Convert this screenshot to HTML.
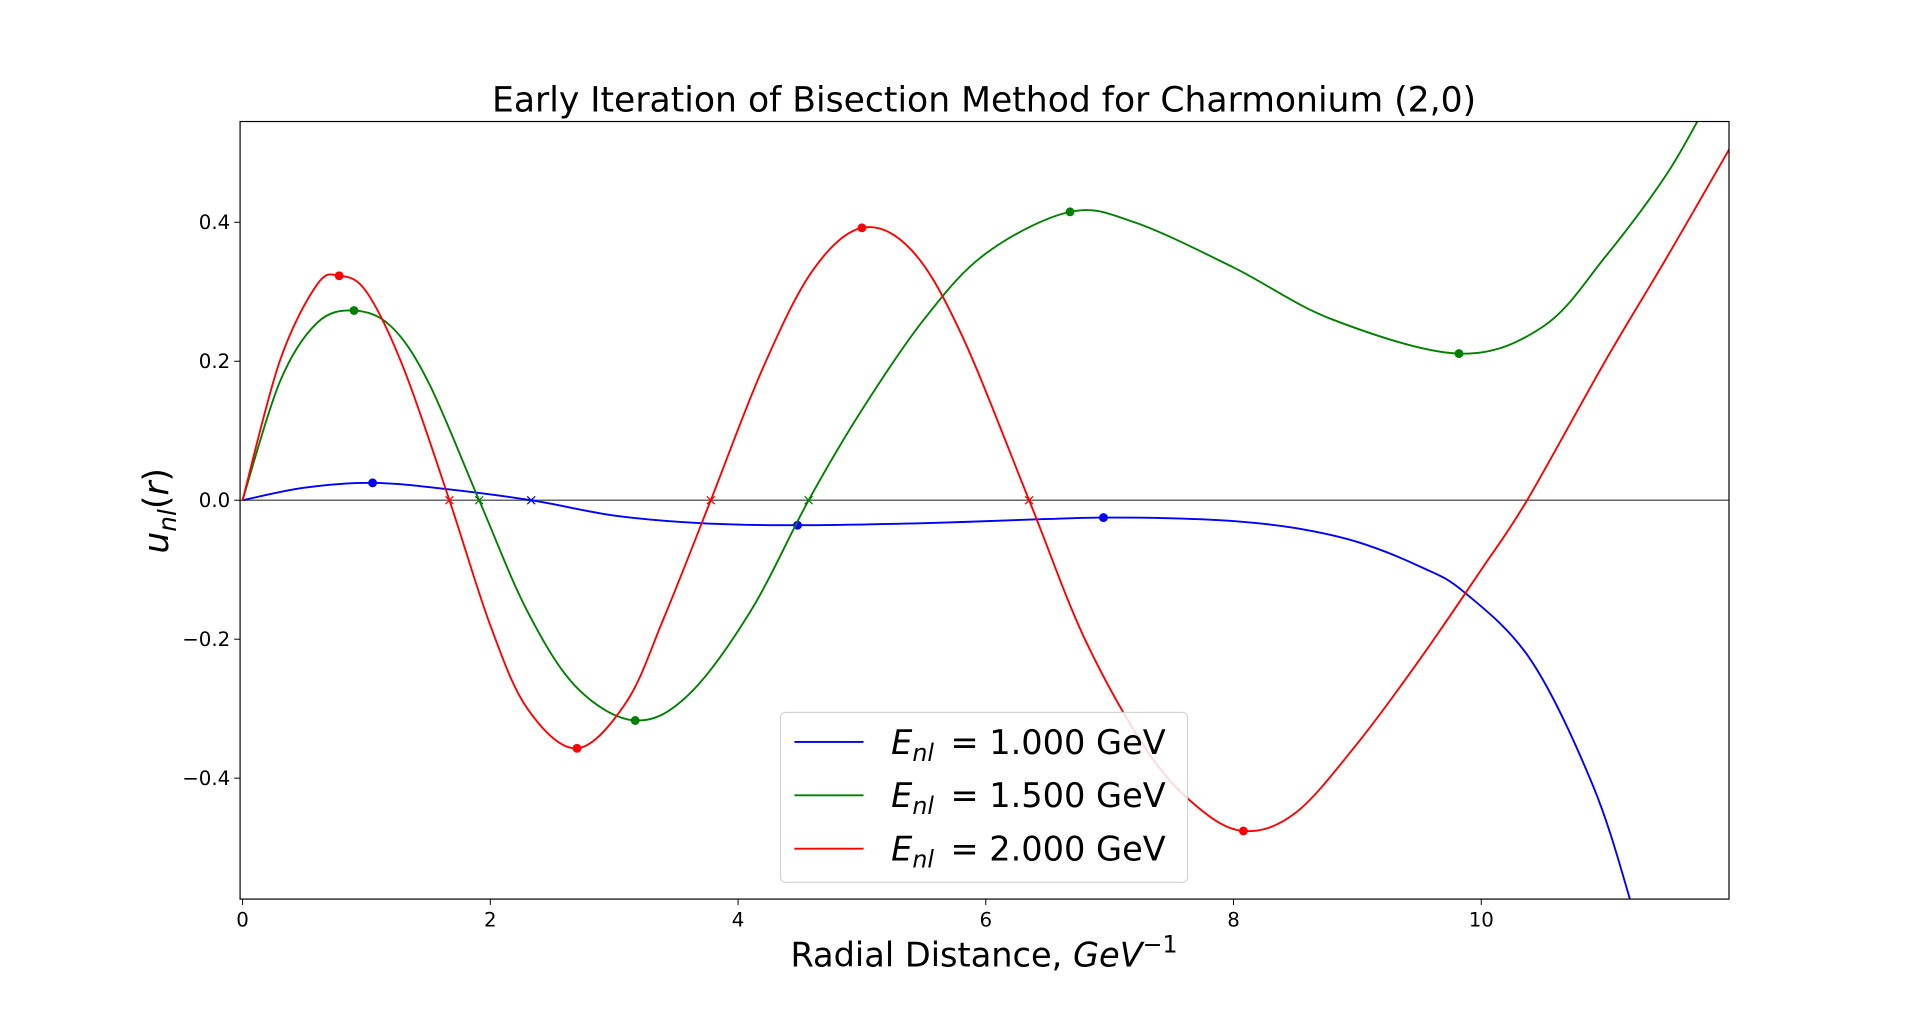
<!DOCTYPE html>
<html><head><meta charset="utf-8"><style>
html,body{margin:0;padding:0;background:#fff;}
svg{display:block;font-family:"DejaVu Sans","Liberation Sans",sans-serif;}
</style></head><body>
<svg id="chart" width="1920" height="1010" viewBox="0 0 1920 1010" xmlns="http://www.w3.org/2000/svg">
<rect width="1920" height="1010" fill="#fff"/>
<g transform="scale(0.988)">
<text x="996" y="113" font-size="35" text-anchor="middle">Early Iteration of Bisection Method for Charmonium (2,0)</text>
<g id="plot"></g>
<text x="996" y="978" font-size="34" text-anchor="middle">Radial Distance, <tspan font-style="italic">GeV</tspan><tspan dy="-14" font-size="24">−1</tspan></text>
<text transform="translate(170,517) rotate(-90)" font-size="35" text-anchor="middle"><tspan font-style="italic">u</tspan><tspan font-style="italic" font-size="25" dy="8">nl</tspan><tspan dy="-8">(</tspan><tspan font-style="italic">r</tspan>)</text>
</g>
</svg>
<script>
const xTicks=[0,2,4,6,8,10];
const yTicks=[-0.4,-0.2,0.0,0.2,0.4];
const blueX=[0,0.5,1.05,1.6,2.33,3,3.7,4.48,5.5,6.5,6.95,7.5,8,8.5,9,9.5,9.86,10.4,10.9,11.2,11.35];
const blueY=[0,0.018,0.025,0.017,0,-0.022,-0.033,-0.036,-0.033,-0.027,-0.025,-0.026,-0.03,-0.04,-0.06,-0.095,-0.132,-0.23,-0.41,-0.574,-0.68];
const greenX=[0,0.3,0.6,0.9,1.2,1.5,1.91,2.3,2.7,3.17,3.6,4.1,4.57,5,5.5,6,6.68,7.2,8,8.8,9.82,10.5,11,11.5,11.85];
const greenY=[0,0.17,0.255,0.273,0.25,0.17,0,-0.16,-0.27,-0.317,-0.28,-0.16,0,0.13,0.26,0.355,0.415,0.4,0.335,0.26,0.211,0.25,0.35,0.47,0.58];
const redX=[0,0.3,0.6,0.78,1.0,1.3,1.67,2.0,2.3,2.7,3.1,3.4,3.78,4.2,4.6,5.0,5.4,5.8,6.35,6.8,7.3,7.7,8.08,8.5,9,9.5,10.0,10.37,11,11.5,12.05];
const redY=[0,0.2,0.31,0.323,0.3,0.19,0,-0.18,-0.3,-0.357,-0.29,-0.17,0,0.19,0.33,0.392,0.36,0.24,0,-0.2,-0.36,-0.44,-0.476,-0.45,-0.35,-0.23,-0.1,0,0.2,0.35,0.52];
const blueDotsX=[1.05,4.48,6.95], blueDotsY=[0.025,-0.036,-0.025];
const greenDotsX=[0.9,3.17,6.68,9.82], greenDotsY=[0.273,-0.317,0.415,0.211];
const redDotsX=[0.78,2.7,5.0,8.08], redDotsY=[0.323,-0.357,0.392,-0.476];
const zeroBlueX=[2.33], zeroGreenX=[1.91,4.57], zeroRedX=[1.67,3.78,6.35];
const legendLabels=["1.000","1.500","2.000"];

const L=243,R=1750,T=123,B=910,X0=-0.02,X1=12.0,Y0=-0.574,Y1=0.545;
const sx=v=>L+(v-X0)/(X1-X0)*(R-L);
const sy=v=>B-(v-Y0)/(Y1-Y0)*(B-T);
const NS="http://www.w3.org/2000/svg";
const g=document.getElementById('plot');
function mk(tag,attrs,parent){const e=document.createElementNS(NS,tag);for(const k in attrs)e.setAttribute(k,attrs[k]);(parent||g).appendChild(e);return e;}
const defs=mk('defs',{});
const cp=mk('clipPath',{id:'clip'},defs);mk('rect',{x:L,y:T,width:R-L,height:B-T},cp);
const zl=mk('line',{x1:L,x2:R,y1:sy(0),y2:sy(0),stroke:'#666','stroke-width':1.5});


function pathD(xs,ys){const p=xs.map((x,i)=>[sx(x),sy(ys[i])]);let d='M'+p[0][0]+','+p[0][1];
for(let i=0;i<p.length-1;i++){const a=p[Math.max(i-1,0)],b=p[i],c=p[i+1],e=p[Math.min(i+2,p.length-1)];
d+=' C'+(b[0]+(c[0]-a[0])/6)+','+(b[1]+(c[1]-a[1])/6)+' '+(c[0]-(e[0]-b[0])/6)+','+(c[1]-(e[1]-b[1])/6)+' '+c[0]+','+c[1];}return d;}
const series=[['blue',blueX,blueY,blueDotsX,blueDotsY,zeroBlueX],['green',greenX,greenY,greenDotsX,greenDotsY,zeroGreenX],['red',redX,redY,redDotsX,redDotsY,zeroRedX]];
const cg=mk('g',{'clip-path':'url(#clip)'});
series.forEach(s=>{
 const p=mk('path',{d:pathD(s[1],s[2]),fill:'none',stroke:s[0],'stroke-width':1.9},cg);
 
 
 s[3].forEach((x,i)=>{const c=mk('circle',{cx:sx(x),cy:sy(s[4][i]),r:4.5,fill:s[0]},cg);
  
  });
 s[5].forEach(x=>{const X=sx(x),Y=sy(0);const m=mk('path',{d:`M${X-4},${Y-4}L${X+4},${Y+4}M${X-4},${Y+4}L${X+4},${Y-4}`,stroke:s[0],'stroke-width':1.3},cg);
  
  });
});
const fr=mk('rect',{x:L,y:T,width:R-L,height:B-T,fill:'none',stroke:'#000','stroke-width':1.2});


xTicks.forEach(v=>{const X=sx(v);mk('line',{x1:X,x2:X,y1:B,y2:B+6,stroke:'#000'});
 const t=mk('text',{x:X,y:B+28,'font-size':20,'text-anchor':'middle'});t.textContent=String(v);
 
 });
yTicks.forEach(v=>{const Y=sy(v);mk('line',{x1:L-6,x2:L,y1:Y,y2:Y,stroke:'#000'});
 const t=mk('text',{x:L-10,y:Y+7,'font-size':20,'text-anchor':'end'});t.textContent=(v<0?'−':'')+Math.abs(v).toFixed(1);
 
 });
const lg=mk('g',{});


mk('rect',{x:790,y:721,width:412,height:172,rx:5,fill:'#fff','fill-opacity':0.85,stroke:'#ccc'},lg);
['blue','green','red'].forEach((c,i)=>{const y=751+i*54;
 mk('line',{x1:804,x2:874,y1:y,y2:y,stroke:c,'stroke-width':1.9},lg);
 const t=mk('text',{x:902,y:y+12,'font-size':34,'xml:space':'preserve'},lg);
 t.innerHTML='<tspan font-style="italic">E</tspan><tspan font-style="italic" font-size="24" dy="7">nl</tspan><tspan dy="-7" x="962">=  '+legendLabels[i]+' GeV</tspan>';
 
 });
</script>
</body></html>
